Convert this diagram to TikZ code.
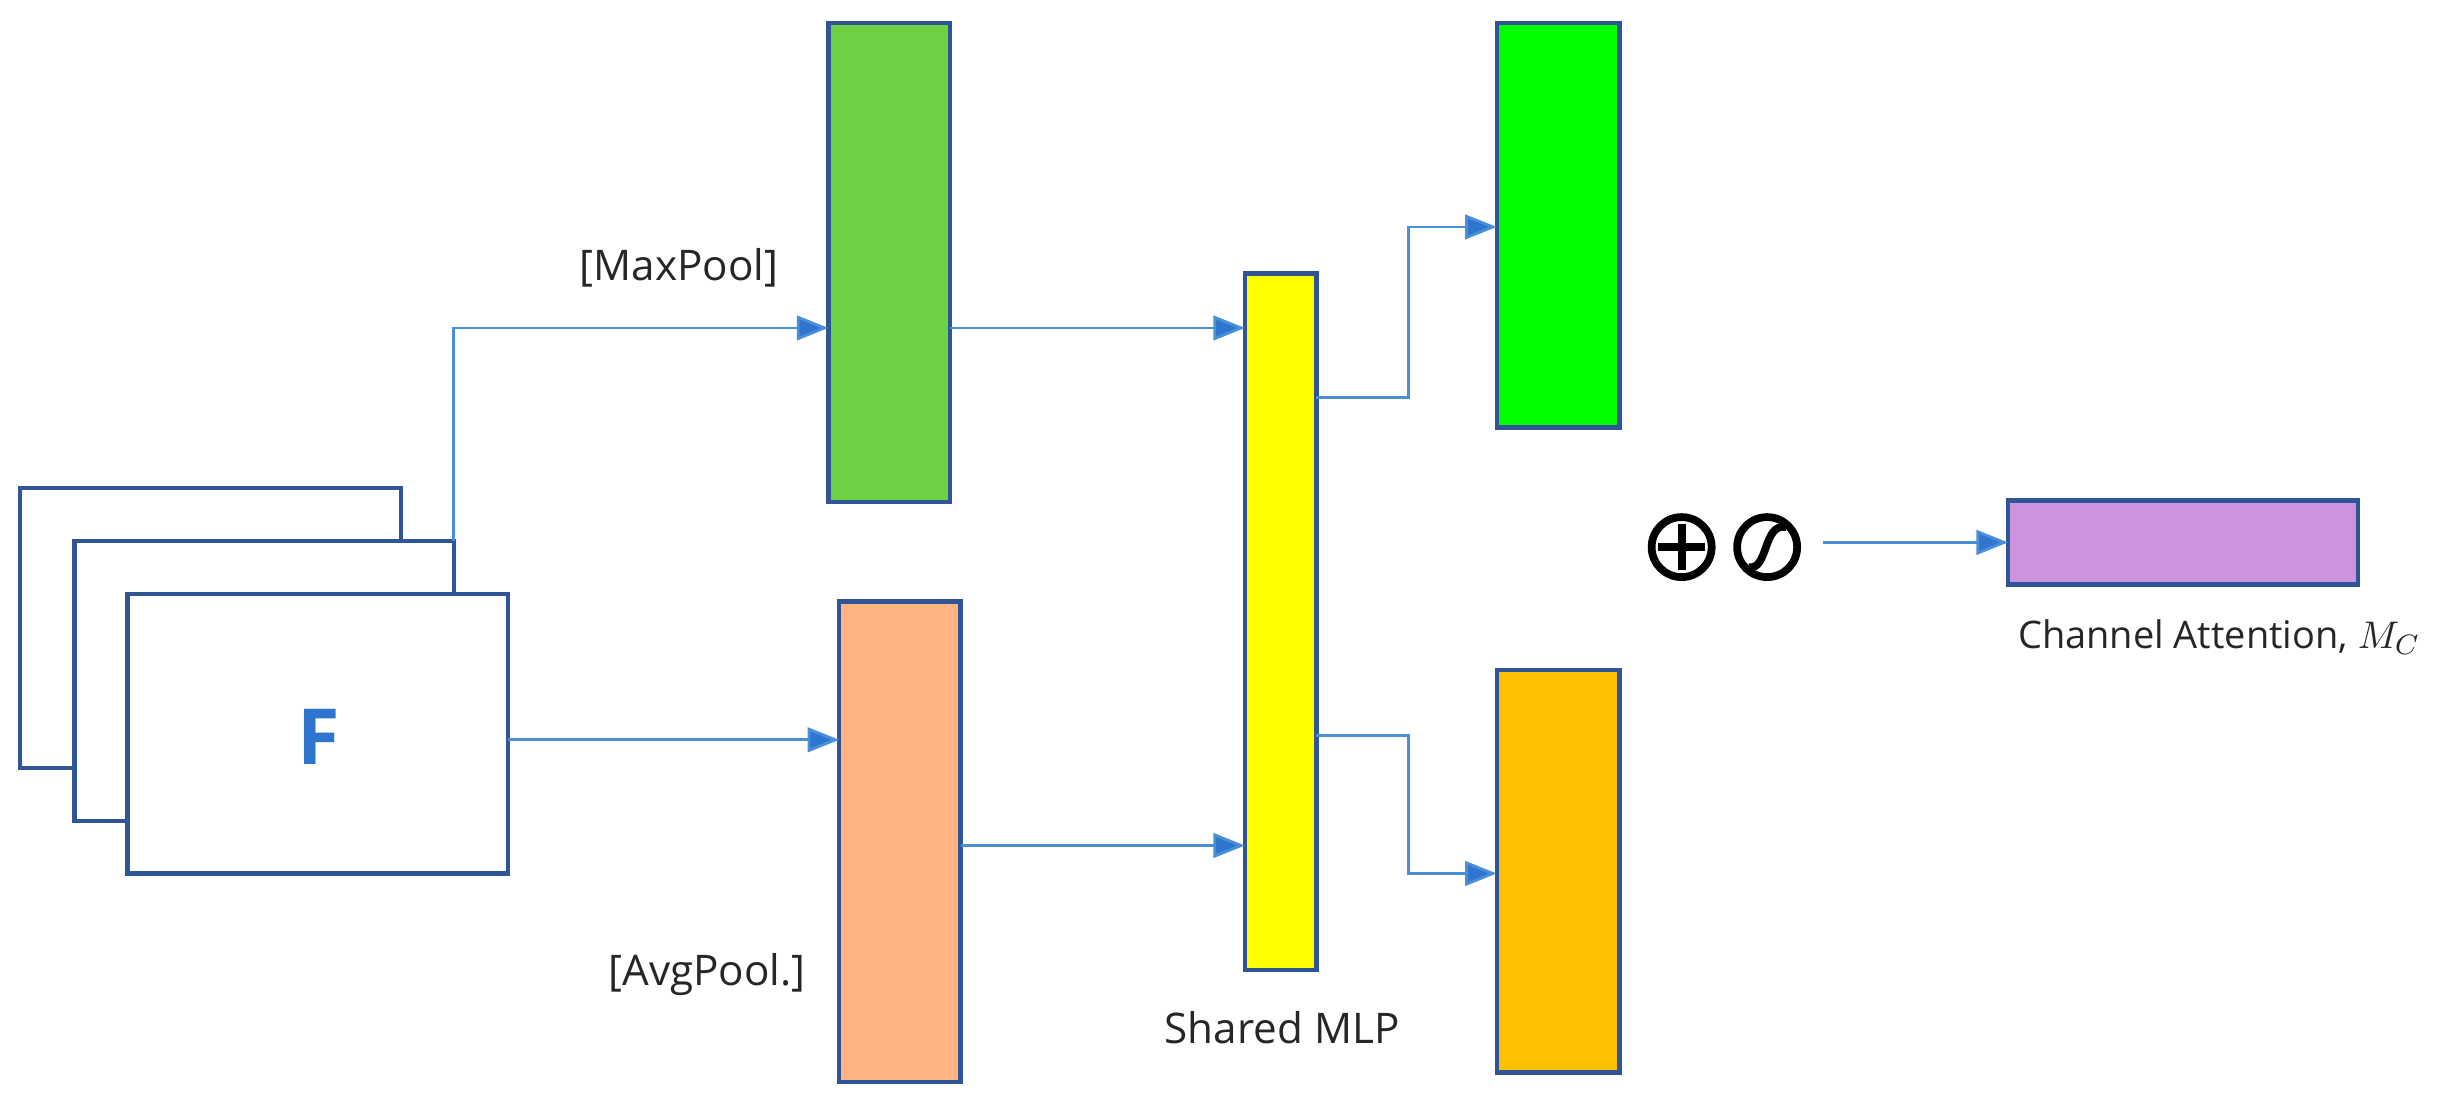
\documentclass[tikz,border=0pt]{standalone}
\usepackage{fontspec}
\setmainfont{Open Sans}
\usetikzlibrary{arrows.meta}
\definecolor{edge}{HTML}{2F5597}
\definecolor{conn}{HTML}{4A8FD8}
\definecolor{tip}{HTML}{2E75D0}
\begin{document}
\begin{tikzpicture}[x=0.01554cm,y=-0.01554cm,
  box/.style={draw=edge,line width=1.2pt},
  frame/.style={draw=edge,line width=1.2pt,fill=white},
  conn/.style={draw=conn,line width=0.8pt,-{Triangle[length=9pt,width=7pt,fill=tip]}},
  lab/.style={font=\fontsize{12}{14}\selectfont,text=black!85}]
\useasboundingbox (0,0) rectangle (1568,711);
\draw[frame] (13,314) rectangle (258,494);
\draw[frame] (48,348) rectangle (292,528);
\draw[frame] (82,382) rectangle (327,562);
\node[text=tip,font=\fontsize{22}{24}\selectfont\bfseries] (F) at (205,474) {F};
\coordinate (mtop) at (292,348);
\coordinate (fr) at (327,476);
\path[box,fill={rgb,255:red,109;green,209;blue,67}] (533,15) rectangle (611,323);
\coordinate (g1l) at (533,211); \coordinate (g1r) at (611,211);
\path[box,fill={rgb,255:red,255;green,180;blue,130}] (540,387) rectangle (618,696);
\coordinate (sl) at (540,476); \coordinate (sr) at (618,544);
\path[box,fill={rgb,255:red,255;green,255;blue,0}] (801,176) rectangle (847,624);
\coordinate (ya) at (801,211); \coordinate (yb) at (801,544);
\coordinate (yc) at (847,256); \coordinate (yd) at (847,473);
\path[box,fill={rgb,255:red,0;green,255;blue,0}] (963,15) rectangle (1042,275);
\coordinate (g2l) at (963,146);
\path[box,fill={rgb,255:red,255;green,192;blue,0}] (963,431) rectangle (1042,690);
\coordinate (ol) at (963,562);
\path[box,fill={rgb,255:red,206;green,147;blue,222}] (1292,322) rectangle (1517,376);
\coordinate (pl) at (1292,349);
\node[lab] (mp) at (437,172) {[MaxPool]};
\node[lab] (ap) at (455,627) {[AvgPool.]};
\node[lab] (sm) at (825,661) {Shared MLP};
\node[lab,font=\fontsize{10.8}{13}\selectfont,anchor=west,inner sep=0pt] (ca) at (1298,410) {Channel Attention, $M_C$};
\draw[conn] (mtop) |- (g1l);
\draw[conn] (fr) -- (sl);
\draw[conn] (g1r) -- (ya);
\draw[conn] (sr) -- (yb);
\draw[conn] (yc) -| (906,146) -- (g2l);
\draw[conn] (yd) -| (906,562) -- (ol);
\draw[black,line width=2.2pt] (1082,352) circle[radius=0.3cm];
\draw[black,line width=2.2pt] (1067,352) -- (1097,352) (1082,337) -- (1082,367);
\draw[black,line width=2.2pt] (1137,352) circle[radius=0.3cm];
\draw[black,line width=2.2pt] (1125,365) .. controls (1138,367) and (1134,337) .. (1149,339);
\coordinate (sg) at (1173,349);
\draw[conn] (sg) -- (pl);
\end{tikzpicture}
\end{document}
